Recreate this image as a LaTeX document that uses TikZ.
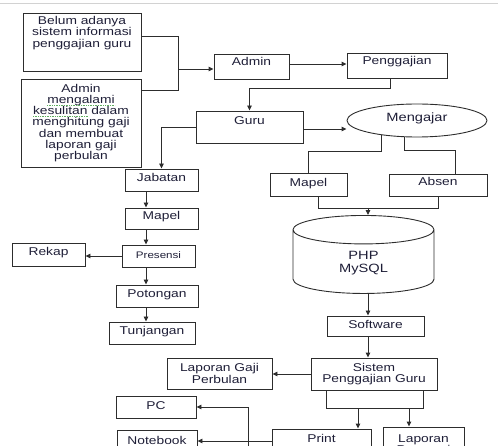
\documentclass[tikz,border=0pt]{standalone}
\usepackage{fontspec}
\usepackage{xcolor}
\usepackage{tikz}
\usetikzlibrary{calc}
\usetikzlibrary{arrows.meta}
\usetikzlibrary{shapes.geometric}
\newfontfamily\diagfont[FakeStretch=1.22]{Liberation Sans}
\definecolor{inkline}{RGB}{45,45,45}
\definecolor{inktext}{RGB}{30,30,55}
\definecolor{spellgreen}{RGB}{95,175,95}
\tikzset{
	boxbase/.style={draw=inkline,line width=0.9pt,rectangle,inner sep=1pt,text=inktext,font=\diagfont\fontsize{11.3}{11.2}\selectfont},
	box/.style={boxbase,text height=8pt,text depth=5pt},
	wire/.style={draw=inkline,line width=0.9pt},
	arr/.style={wire,-{Triangle[length=5pt,width=4.5pt]}},
	squiggle/.style={draw=spellgreen,line width=0.7pt,dash pattern=on 1pt off 0.7pt}
}

\begin{document}
\begin{tikzpicture}[x=1pt,y=-1pt]
	\useasboundingbox (0,0) rectangle (498,446);
	\clip (0,0) rectangle (498,446);
	\draw[gray!35,line width=1pt] (0,4)--(498,4);
	\node[boxbase,minimum width=118,minimum height=58] (belum) at (82,42) {};
	\node[boxbase,draw=none,align=center,anchor=north] (belumtxt) at (82,15) {Belum adanya\\sistem informasi\\penggajian guru};
	\node[boxbase,align=center,minimum width=120,minimum height=88] (masalah) at (81,123) {Admin\\mengalami\\kesulitan dalam\\menghitung gaji\\dan membuat\\laporan gaji\\perbulan};
	\draw[squiggle] ($(masalah)+(-34,-17.5)$) -- ($(masalah)+(34,-17.5)$);
	\draw[squiggle] ($(masalah)+(-48,-6.5)$) -- ($(masalah)+(7,-6.5)$);
	\node[box,minimum width=75,minimum height=25,text depth=9pt] (admin) at (251.5,66.5) {Admin};
	\node[box,minimum width=100,minimum height=25,text depth=9pt] (gaji) at (397,65.5) {Penggajian};
	\node[box,minimum width=107,minimum height=32,text depth=13pt] (guru) at (249.5,127) {Guru};
	\node[box,ellipse,minimum width=140,minimum height=33,font=\diagfont\fontsize{12}{12}\selectfont,text height=8.6pt,text depth=6pt] (mengajar) at (417,120.5) {Mengajar};
	\node[box,minimum width=77,minimum height=23,text depth=3pt] (mapelR) at (308.5,184.5) {Mapel};
	\node[box,minimum width=98,minimum height=22,text depth=7pt] (absen) at (438,185) {Absen};
	\node[boxbase,cylinder,shape border rotate=90,aspect=0.56,minimum width=141,minimum height=78,align=center,font=\diagfont\fontsize{12}{13.5}\selectfont] (db) at (363.5,263) {PHP\\MySQL};
	\node[box,minimum width=97,minimum height=20,text depth=2pt] (software) at (375.5,326) {Software};
	\node[boxbase,align=center,minimum width=126,minimum height=32] (sistem) at (374,374) {Sistem\\Penggajian Guru};
	\node[boxbase,align=center,minimum width=105,minimum height=31] (lapgaji) at (219.5,373.5) {Laporan Gaji\\Perbulan};
	\node[box,minimum width=80,minimum height=22,text depth=3pt] (pc) at (156,407) {PC};
	\node[box,minimum width=80,minimum height=22,text depth=2pt] (notebook) at (157,441) {Notebook};
	\node[box,minimum width=99,minimum height=32,text depth=14pt] (print) at (321.5,445) {Print};
	\node[boxbase,align=center,minimum width=81,minimum height=35] (lappres) at (423.5,444.5) {Laporan\\Presensi};
	\node[box,minimum width=73,minimum height=22] (jabatan) at (161.5,180) {Jabatan};
	\node[box,minimum width=73,minimum height=21] (mapelL) at (161.5,218.5) {Mapel};
	\node[box,minimum width=73,minimum height=22,font=\diagfont\fontsize{9.5}{10}\selectfont,text height=7pt,text depth=2.5pt] (presensi) at (158.5,256) {Presensi};
	\node[box,minimum width=73,minimum height=23] (rekap) at (48.5,254.5) {Rekap};
	\node[box,minimum width=82,minimum height=22] (potongan) at (157,296) {Potongan};
	\node[box,minimum width=86,minimum height=22] (tunjangan) at (152,333) {Tunjangan};
	\coordinate (join) at (178,69);
	\draw[wire] ($(belum.east)+(0,-6)$) -| (join);
	\draw[wire] ($(masalah.east)+(0,-33)$) -| (join);
	\draw[arr] (join) -- (join -| admin.west);
	\draw[arr] (admin.east |- 0,64) -- (gaji.west |- 0,64);
	\draw[arr] (390,0 |- gaji.south) |- (guru.north |- 0,88) -- (guru.north);
	\draw[arr] (guru.east |- 0,129) -- (mengajar.west |- 0,129);
	\draw[wire] (mengajar.202) |- (mapelR.north |- 0,151) -- (mapelR.north);
	\draw[wire] (mengajar.234) |- ($(absen.north)+(17,-23)$) -- ($(absen.north)+(17,0)$);
	\draw[wire] ($(mapelR.south)+(9.5,0)$) |- (absen.south |- 0,208) -- (absen.south);
	\coordinate (dbin) at (368,208);
	\draw[arr] (dbin) -- (dbin |- db.north);
	\coordinate (dbout) at ($(db.south)+(4.5,0)$);
	\draw[arr] (dbout) -- (dbout |- software.north);
	\draw[arr] (dbout |- software.south) -- (dbout |- sistem.north);
	\draw[arr] (sistem.west) -- (sistem.west -| lapgaji.east);
	\coordinate (barL) at (326,408);
	\coordinate (barR) at (423,408);
	\draw[wire] (barL |- sistem.south) -- (barL) -- (barR) -- (barR |- sistem.south);
	\draw[arr] (358,0 |- barL) -- (358,0 |- print.north);
	\draw[arr] (409,0 |- barL) -- (409,0 |- lappres.north);
	\draw[arr] (print.west |- notebook.east) -- (notebook.east);
	\coordinate (pcfeed) at (248,470);
	\draw[arr] (pcfeed) |- (pc.east);
	\draw[arr] (guru.west) -| (jabatan.north);
	\coordinate (lcol) at (146,0);
	\draw[arr] (lcol |- jabatan.south) -- (lcol |- mapelL.north);
	\draw[arr] (lcol |- mapelL.south) -- (lcol |- presensi.north);
	\draw[arr] (lcol |- presensi.south) -- (lcol |- potongan.north);
	\draw[arr] (lcol |- potongan.south) -- (lcol |- tunjangan.north);
	\draw[arr] (presensi.west) -- (presensi.west -| rekap.east);
\end{tikzpicture}
\end{document}
